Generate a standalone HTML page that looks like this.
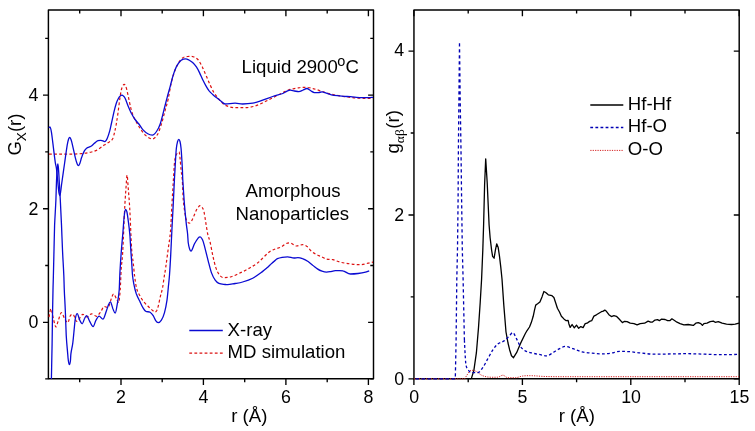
<!DOCTYPE html>
<html><head><meta charset="utf-8"><title>G(r) plots</title>
<style>
html,body{margin:0;padding:0;background:#fff;}
svg{display:block;will-change:transform;}
text{font-family:"Liberation Sans",Arial,sans-serif;fill:#000;}
.t{font-size:17.8px;text-anchor:middle;}
.l{font-size:18.6px;}
.s{font-family:"Liberation Serif","DejaVu Serif",serif;}
</style></head><body>
<svg width="755" height="431" viewBox="0 0 755 431">
<rect width="755" height="431" fill="#fff"/>
<g fill="none" stroke-linejoin="round" stroke-linecap="butt">
<!-- frames and ticks -->
<rect x="48.4" y="10.05" width="325.1" height="368.75" stroke="#000" stroke-width="1.45"/>
<rect x="413.95" y="10.05" width="325.25" height="368.75" stroke="#000" stroke-width="1.45"/>
<path d="M79.7 378.8v3.5M79.7 10.1v3.5M121.0 378.8v6.1M121.0 10.1v6.1M162.2 378.8v3.5M162.2 10.1v3.5M203.4 378.8v6.1M203.4 10.1v6.1M244.7 378.8v3.5M244.7 10.1v3.5M285.9 378.8v6.1M285.9 10.1v6.1M327.2 378.8v3.5M327.2 10.1v3.5M368.4 378.8v6.1M368.4 10.1v6.1M48.4 378.8h-3.2M373.5 378.8h-3.2M48.4 322.3h-5.4M373.5 322.3h-5.4M48.4 265.5h-3.2M373.5 265.5h-3.2M48.4 208.7h-5.4M373.5 208.7h-5.4M48.4 151.9h-3.2M373.5 151.9h-3.2M48.4 95.1h-5.4M373.5 95.1h-5.4M48.4 38.3h-3.2M373.5 38.3h-3.2M413.9 378.8v6.1M413.9 10.1v6.1M468.2 378.8v3.5M468.2 10.1v3.5M522.4 378.8v6.1M522.4 10.1v6.1M576.6 378.8v3.5M576.6 10.1v3.5M630.8 378.8v6.1M630.8 10.1v6.1M685.0 378.8v3.5M685.0 10.1v3.5M739.2 378.8v6.1M739.2 10.1v6.1M413.9 378.8h-5.4M739.2 378.8h-5.4M413.9 296.9h-3.2M739.2 296.9h-3.2M413.9 215.0h-5.4M739.2 215.0h-5.4M413.9 133.0h-3.2M739.2 133.0h-3.2M413.9 51.1h-5.4M739.2 51.1h-5.4" stroke="#000" stroke-width="1.35"/>
<!-- left panel curves -->
<path d="M49.0 154.1C55.7 154.1 62.3 154.1 69.0 154.1C73.2 154.1 77.4 154.0 81.6 153.6C84.9 153.3 88.3 152.8 91.6 152.0C93.7 151.5 95.8 150.7 97.9 149.5C100.0 148.3 102.1 146.5 104.2 145.1C105.9 144.0 107.5 143.2 109.2 142.0C110.4 141.1 111.5 141.0 112.7 138.8C113.4 137.5 114.1 134.2 114.8 131.3C115.3 129.2 115.8 126.9 116.3 124.0C116.9 120.3 117.6 116.0 118.2 111.4C118.7 107.6 119.3 102.5 119.8 98.8C120.3 95.4 120.8 92.3 121.3 90.1C121.8 87.9 122.3 86.8 122.8 85.8C123.3 84.9 123.7 84.4 124.2 84.4C124.7 84.4 125.1 85.0 125.6 86.0C126.0 86.9 126.5 88.4 126.9 90.1C127.5 92.6 128.2 95.9 128.8 98.8C129.4 101.7 130.1 105.2 130.7 107.6C131.5 110.8 132.4 113.6 133.2 115.7C134.2 118.4 135.3 120.1 136.3 122.0C137.4 124.0 138.4 125.9 139.5 127.5C141.4 130.3 143.4 133.4 145.3 135.1C147.6 137.2 150.0 138.9 152.3 138.9C154.0 138.9 155.8 137.3 157.5 134.5C158.8 132.4 160.1 128.1 161.4 124.0C162.7 120.0 163.9 114.8 165.2 110.1C166.2 106.4 167.2 103.5 168.2 99.0C169.2 94.3 170.3 86.9 171.3 82.6C172.6 77.3 173.8 73.5 175.1 70.1C176.3 66.8 177.6 64.5 178.8 62.5C180.1 60.4 181.3 58.8 182.6 57.9C184.3 56.8 185.9 56.5 187.6 56.5C189.5 56.5 191.3 56.1 193.2 56.7C194.9 57.3 196.6 58.0 198.3 60.0C199.7 61.7 201.2 64.7 202.6 67.6C203.9 70.1 205.1 73.4 206.4 76.3C207.7 79.2 208.9 82.3 210.2 85.1C211.4 87.8 212.7 90.5 213.9 92.6C215.2 94.7 216.4 96.0 217.7 97.6C218.8 99.0 219.9 100.4 221.0 101.5C222.4 102.9 223.7 104.6 225.1 105.2C228.4 106.7 231.8 107.7 235.1 107.7C238.5 107.7 241.8 107.7 245.2 107.7C248.5 107.7 251.9 107.0 255.2 106.0C258.5 105.0 261.9 103.1 265.2 101.5C268.5 99.9 271.9 98.2 275.2 96.5C278.6 94.8 281.9 93.0 285.3 91.4C286.9 90.6 288.4 89.9 290.0 89.4C292.1 88.8 294.2 88.6 296.3 88.2C298.4 87.9 300.4 87.3 302.5 87.3C304.4 87.3 306.3 87.2 308.2 87.5C310.1 87.7 311.9 88.3 313.8 88.8C315.9 89.4 318.0 90.0 320.1 90.7C322.2 91.4 324.2 92.2 326.3 92.8C328.8 93.6 331.4 94.3 333.9 94.8C336.8 95.4 339.7 95.9 342.6 96.3C346.0 96.8 349.3 97.2 352.7 97.6C355.2 97.9 357.7 98.1 360.2 98.2C362.7 98.3 365.2 98.4 367.7 98.4C369.5 98.4 371.2 98.3 373.0 98.2" stroke="#dc1010" stroke-width="1.2" stroke-dasharray="2.8 2.3"/>
<path d="M49.0 317.0C49.6 314.3 50.3 308.8 50.9 308.8C51.7 308.8 52.6 315.8 53.4 318.8C54.2 321.8 55.1 327.0 55.9 327.0C56.7 327.0 57.6 322.2 58.4 320.1C59.4 317.4 60.5 312.6 61.5 312.6C62.6 312.6 63.6 317.1 64.7 318.8C65.7 320.4 66.8 322.6 67.8 322.6C68.6 322.6 69.5 317.0 70.3 315.7C71.2 314.3 72.1 314.5 73.0 314.5C74.3 314.5 75.5 321.5 76.8 321.5C78.8 321.5 80.9 314.4 82.9 314.4C84.3 314.4 85.8 316.9 87.2 316.9C88.7 316.9 90.1 313.8 91.6 313.8C93.3 313.8 94.9 316.3 96.6 316.3C98.1 316.3 99.5 313.2 101.0 311.3C102.1 309.9 103.1 306.5 104.2 306.5C105.4 306.5 106.7 307.5 107.9 307.5C109.2 307.5 110.4 300.5 111.7 297.5C112.3 296.0 113.0 294.0 113.6 294.0C114.6 294.0 115.7 297.7 116.7 299.5C117.3 300.6 118.0 302.6 118.6 302.6C119.1 302.6 119.7 296.9 120.2 290.0C120.5 285.7 120.9 273.8 121.2 268.8C121.7 261.8 122.1 261.9 122.6 253.8C123.3 241.6 124.0 221.6 124.7 208.0C125.1 199.6 125.6 193.6 126.0 187.7C126.4 182.7 126.7 175.2 127.1 175.2C127.5 175.2 127.8 183.1 128.2 187.7C128.7 194.0 129.2 199.1 129.7 208.0C130.4 219.9 131.0 239.6 131.7 250.0C132.2 257.8 132.7 258.0 133.2 262.5C133.7 266.7 134.1 272.4 134.6 276.0C135.2 280.9 135.9 285.3 136.5 288.0C137.3 291.2 138.0 292.3 138.8 293.8C140.5 297.0 142.1 299.7 143.8 301.9C145.5 304.1 147.1 305.4 148.8 307.0C150.2 308.4 151.6 309.7 153.0 310.8C153.7 311.4 154.4 312.0 155.1 312.0C155.7 312.0 156.2 311.5 156.8 310.5C157.3 309.6 157.7 308.1 158.2 306.3C158.8 303.8 159.5 300.3 160.1 297.6C160.9 294.0 161.8 291.7 162.6 287.5C163.1 285.0 163.6 280.7 164.1 277.5C164.6 274.1 165.2 271.3 165.7 267.6C166.5 261.8 167.4 255.2 168.2 248.8C169.0 243.0 169.7 240.1 170.5 231.0C171.0 225.5 171.4 213.3 171.9 205.1C172.4 196.3 172.9 188.3 173.4 180.0C173.7 174.5 174.1 167.5 174.4 163.8C174.8 159.8 175.1 158.3 175.5 157.0C176.2 154.6 176.8 153.7 177.5 152.8C178.0 152.0 178.6 151.9 179.1 151.9C179.4 151.9 179.8 155.8 180.1 158.8C180.4 161.8 180.8 166.9 181.1 170.1C181.5 174.0 181.9 174.5 182.3 180.0C182.6 184.1 182.9 195.5 183.2 198.8C184.0 208.0 184.9 213.1 185.7 217.6C186.3 220.8 186.9 220.9 187.5 221.8C188.2 222.8 188.8 223.2 189.5 223.2C190.1 223.2 190.7 222.4 191.3 221.5C191.9 220.5 192.6 219.0 193.2 217.6C194.3 215.2 195.3 212.3 196.4 210.1C197.1 208.7 197.8 207.6 198.5 206.8C199.0 206.2 199.6 205.7 200.1 205.7C200.7 205.7 201.3 206.1 201.9 207.0C202.6 208.0 203.2 208.6 203.9 211.3C204.5 213.8 205.2 218.8 205.8 222.6C206.4 226.4 207.1 231.1 207.7 234.0C208.5 237.8 209.4 239.0 210.2 242.5C211.0 246.0 211.9 251.4 212.7 255.1C213.7 259.7 214.8 264.6 215.8 267.6C217.1 271.3 218.3 273.4 219.6 275.1C220.8 276.7 222.1 277.6 223.3 277.6C225.6 277.6 227.9 277.6 230.2 277.0C232.7 276.4 235.3 275.2 237.8 274.0C241.1 272.5 244.5 270.9 247.8 269.0C251.2 267.1 254.5 265.2 257.9 262.7C259.9 261.2 262.0 258.7 264.0 256.8C266.0 254.9 268.0 252.8 270.0 251.4C271.9 250.1 273.7 249.6 275.6 248.9C277.4 248.2 279.3 248.0 281.1 247.1C282.7 246.3 284.2 244.5 285.8 243.8C287.2 243.1 288.6 242.9 290.0 242.9C292.2 242.9 294.3 246.0 296.5 246.0C298.5 246.0 300.5 244.7 302.5 244.7C304.0 244.7 305.6 245.4 307.1 246.6C308.7 247.8 310.2 250.4 311.8 251.7C313.3 253.0 314.9 253.7 316.4 254.5C318.1 255.4 319.8 256.0 321.5 256.8C323.2 257.6 324.9 258.7 326.6 259.1C328.7 259.6 330.8 259.2 332.9 259.7C335.4 260.3 337.9 261.6 340.4 262.2C343.7 263.0 347.1 263.5 350.4 263.9C353.8 264.3 357.1 264.7 360.5 264.7C363.0 264.7 365.5 263.7 368.0 263.2C369.7 262.9 371.3 262.5 373.0 262.2" stroke="#dc1010" stroke-width="1.2" stroke-dasharray="2.8 2.3"/>
<path d="M48.8 127.8C49.2 127.5 49.6 126.9 50.0 126.9C50.5 126.9 51.0 129.6 51.5 132.6C52.1 136.5 52.8 142.6 53.4 147.6C54.0 152.6 54.7 158.3 55.3 162.6C55.7 165.3 56.1 165.6 56.5 168.8C57.0 172.8 57.5 179.1 58.0 184.0C58.3 187.0 58.6 190.4 58.9 192.5C59.2 194.3 59.4 195.7 59.7 195.7C60.0 195.7 60.3 193.8 60.6 192.0C60.9 190.2 61.2 187.2 61.5 185.0C62.6 177.3 63.6 170.0 64.7 162.5C65.5 156.7 66.4 150.1 67.2 145.1C67.7 142.3 68.1 140.5 68.6 139.0C69.0 137.9 69.3 137.3 69.7 137.3C70.1 137.3 70.5 138.3 70.9 139.3C71.3 140.4 71.8 142.0 72.2 143.8C73.2 148.1 74.3 153.4 75.3 157.6C75.9 160.2 76.6 162.4 77.2 164.0C77.6 165.1 78.1 165.7 78.5 165.7C79.0 165.7 79.4 164.5 79.9 163.3C80.5 161.8 81.0 159.2 81.6 157.6C82.4 155.2 83.3 153.0 84.1 151.4C84.9 149.8 85.8 148.8 86.6 148.2C88.1 147.1 89.5 147.2 91.0 146.3C92.0 145.7 93.1 144.4 94.1 143.6C95.4 142.6 96.6 141.3 97.9 140.7C98.9 140.2 100.0 140.3 101.0 140.3C102.3 140.3 103.5 141.6 104.8 141.6C105.6 141.6 106.5 140.0 107.3 138.2C108.1 136.4 109.0 133.7 109.8 130.7C110.3 128.9 110.8 126.3 111.3 124.0C112.1 120.2 113.0 116.1 113.8 112.6C114.6 109.1 115.5 105.7 116.3 103.2C117.1 100.7 118.0 99.1 118.8 97.6C119.3 96.6 119.9 96.2 120.4 95.8C120.9 95.4 121.4 95.1 121.9 95.1C122.4 95.1 122.9 95.4 123.4 95.9C124.0 96.4 124.5 97.0 125.1 98.2C126.1 100.4 127.2 103.8 128.2 106.3C129.2 108.8 130.3 111.2 131.3 113.2C132.6 115.6 133.8 117.7 135.1 119.5C136.4 121.3 137.6 122.3 138.9 124.0C140.2 125.7 141.5 128.2 142.8 129.6C144.5 131.4 146.1 132.8 147.8 133.8C149.3 134.7 150.8 135.1 152.3 135.1C153.7 135.1 155.1 133.5 156.5 131.5C157.7 129.8 159.0 127.6 160.2 124.0C161.4 120.4 162.7 114.8 163.9 110.1C165.0 106.0 166.0 101.6 167.1 97.6C168.1 93.7 169.2 90.1 170.2 86.3C171.2 82.6 172.2 78.3 173.2 75.1C174.2 71.8 175.3 69.0 176.3 66.9C177.6 64.4 178.8 62.7 180.1 61.3C181.1 60.1 182.2 59.7 183.2 59.2C184.0 58.8 184.9 58.8 185.7 58.8C186.8 58.8 187.8 59.4 188.9 60.0C190.1 60.7 191.4 61.4 192.6 62.5C193.9 63.7 195.1 65.0 196.4 66.9C197.4 68.4 198.5 70.5 199.5 72.6C200.5 74.7 201.6 77.4 202.6 79.5C203.7 81.7 204.7 83.8 205.8 85.7C206.8 87.5 207.9 89.4 208.9 90.7C210.2 92.3 211.4 93.3 212.7 94.5C213.9 95.6 215.2 96.6 216.4 97.6C217.8 98.7 219.1 99.7 220.5 100.7C222.0 101.8 223.6 104.0 225.1 104.0C228.4 104.0 231.8 103.2 235.1 103.2C237.6 103.2 240.1 104.0 242.6 104.0C246.0 104.0 249.3 103.8 252.7 103.2C256.0 102.6 259.4 101.3 262.7 100.2C266.0 99.1 269.4 97.6 272.7 96.5C276.1 95.4 279.4 94.7 282.8 93.5C284.2 93.0 285.6 91.8 287.0 91.2C288.1 90.7 289.2 90.2 290.3 90.2C291.7 90.2 293.0 90.8 294.4 91.0C295.9 91.2 297.3 91.6 298.8 91.6C300.3 91.6 301.7 90.6 303.2 90.0C304.4 89.5 305.7 88.5 306.9 88.5C308.2 88.5 309.4 90.0 310.7 90.7C311.9 91.4 313.2 92.6 314.4 92.6C315.7 92.6 316.9 92.6 318.2 92.6C319.5 92.6 320.7 91.9 322.0 91.9C323.4 91.9 324.9 92.8 326.3 93.2C328.0 93.7 329.7 94.4 331.4 94.8C333.5 95.3 335.5 95.5 337.6 95.7C339.7 96.0 341.8 96.1 343.9 96.3C346.0 96.5 348.1 96.5 350.2 96.7C352.3 96.9 354.3 97.2 356.4 97.3C358.5 97.5 360.6 97.6 362.7 97.6C364.8 97.6 366.9 97.6 369.0 97.6C370.3 97.6 371.7 97.4 373.0 97.3" stroke="#0a0ad2" stroke-width="1.3"/>
<path d="M51.4 379.1C51.6 367.4 51.9 357.6 52.1 344.0C52.2 336.2 52.4 323.0 52.5 315.0C52.7 305.0 52.8 297.4 53.0 290.0C53.1 284.1 53.3 280.3 53.4 275.0C53.6 267.0 53.8 258.0 54.0 250.0C54.2 241.3 54.4 230.7 54.6 225.0C55.1 214.0 55.5 209.8 55.9 200.0C56.1 195.3 56.3 185.9 56.5 181.3C56.8 175.2 57.0 171.5 57.3 168.0C57.5 165.8 57.6 164.0 57.8 164.0C58.0 164.0 58.3 166.1 58.5 169.0C58.8 172.8 59.1 178.8 59.4 184.0C59.7 189.2 60.0 194.1 60.3 200.0C60.7 207.8 61.1 215.9 61.5 225.0C61.8 232.6 62.2 242.8 62.5 250.0C62.9 259.4 63.4 265.4 63.8 275.0C64.0 278.7 64.1 286.0 64.3 290.0C64.5 295.6 64.8 299.1 65.0 304.0C65.2 307.5 65.3 310.7 65.5 315.0C65.7 321.0 66.0 330.9 66.2 335.0C66.7 343.8 67.2 347.9 67.7 353.8C67.9 356.6 68.2 359.5 68.4 361.0C68.7 363.1 69.1 364.6 69.4 364.6C69.7 364.6 70.1 363.4 70.4 361.0C70.6 359.8 70.7 355.1 70.9 353.8C71.5 349.1 72.2 347.7 72.8 343.0C73.2 339.8 73.7 334.3 74.1 330.1C74.5 326.2 74.9 320.9 75.3 318.8C75.9 315.4 76.6 313.6 77.2 313.6C78.0 313.6 78.9 318.4 79.7 320.1C80.5 321.8 81.4 323.8 82.2 323.8C83.0 323.8 83.9 319.7 84.7 318.2C85.3 317.0 86.0 315.7 86.6 315.7C87.6 315.7 88.7 319.6 89.7 321.3C90.8 323.2 92.0 326.6 93.1 326.6C94.1 326.6 95.0 321.8 96.0 320.1C97.0 318.3 98.1 316.1 99.1 316.1C100.4 316.1 101.6 319.1 102.9 319.1C104.2 319.1 105.4 313.2 106.7 310.0C107.4 308.2 108.1 305.5 108.8 304.0C109.3 302.8 109.9 301.9 110.4 301.9C111.2 301.9 112.1 306.8 112.9 308.8C113.7 310.6 114.4 313.2 115.2 313.2C115.9 313.2 116.6 307.9 117.3 303.8C117.9 300.1 118.6 297.3 119.2 290.0C119.4 287.7 119.6 278.8 119.8 275.0C120.2 266.8 120.7 259.9 121.1 254.0C121.7 245.4 122.4 239.0 123.0 231.3C123.4 226.4 123.8 219.8 124.2 216.3C124.6 212.5 125.1 209.4 125.5 209.4C125.9 209.4 126.4 209.9 126.8 211.5C127.2 213.0 127.6 215.8 128.0 218.8C128.6 223.6 129.3 228.0 129.9 235.1C130.2 238.4 130.5 245.4 130.8 250.0C131.1 254.6 131.4 258.1 131.7 262.5C132.0 266.4 132.2 272.3 132.5 275.0C132.9 279.4 133.4 281.7 133.8 283.8C134.6 287.9 135.5 291.4 136.3 293.8C137.6 297.4 138.8 299.3 140.1 301.9C141.1 304.1 142.2 306.5 143.2 308.2C144.0 309.6 144.9 310.8 145.7 311.3C147.2 312.2 148.6 311.3 150.1 312.2C151.1 312.8 152.2 314.1 153.2 315.7C154.0 317.0 154.9 319.5 155.7 320.7C156.5 321.9 157.4 322.6 158.2 322.6C159.3 322.6 160.3 321.8 161.4 320.1C162.4 318.5 163.5 316.3 164.5 312.6C165.3 309.6 166.2 305.6 167.0 300.1C167.4 297.2 167.9 291.9 168.3 287.5C168.7 283.5 169.1 280.4 169.5 275.0C169.9 269.6 170.3 262.6 170.7 255.1C171.1 247.6 171.5 238.0 171.9 230.0C172.3 221.3 172.8 213.8 173.2 205.1C173.6 197.1 174.0 187.9 174.4 180.0C174.6 175.4 174.9 171.4 175.1 167.6C175.5 161.0 175.9 153.0 176.3 148.8C176.7 144.3 177.2 143.1 177.6 141.5C178.0 140.0 178.4 139.4 178.8 139.4C179.2 139.4 179.6 139.9 180.0 141.5C180.4 143.0 180.7 144.6 181.1 148.8C181.5 153.3 181.9 160.3 182.3 167.6C182.5 170.7 182.6 177.2 182.8 180.0C183.4 189.7 183.9 198.0 184.5 205.1C185.1 212.6 185.7 218.3 186.3 223.9C186.7 227.9 187.2 229.8 187.6 234.0C187.8 236.0 188.0 241.0 188.2 242.5C188.7 246.0 189.1 247.6 189.6 249.0C190.1 250.5 190.6 251.1 191.1 251.1C191.6 251.1 192.1 249.6 192.6 248.5C193.2 247.1 193.9 245.0 194.5 243.8C195.8 241.4 197.0 239.4 198.3 237.8C198.9 237.1 199.5 236.9 200.1 236.9C200.7 236.9 201.2 237.6 201.8 238.5C202.3 239.3 202.8 240.3 203.3 241.9C204.1 244.6 205.0 248.1 205.8 251.3C206.6 254.5 207.5 258.1 208.3 261.3C209.3 265.2 210.4 269.8 211.4 272.6C212.7 276.1 213.9 278.3 215.2 280.1C216.4 281.9 217.7 282.8 218.9 283.3C221.0 284.2 223.1 284.2 225.2 284.5C226.0 284.6 226.8 284.7 227.6 284.7C230.1 284.7 232.6 283.9 235.1 283.5C237.6 283.1 240.1 282.8 242.6 282.0C246.0 281.0 249.3 280.0 252.7 278.2C256.0 276.4 259.4 273.8 262.7 271.4C264.1 270.4 265.6 269.0 267.0 267.8C268.2 266.8 269.3 265.6 270.5 264.6C271.6 263.6 272.8 262.6 273.9 261.6C275.1 260.6 276.2 259.3 277.4 258.7C279.0 257.9 280.5 257.6 282.1 257.3C283.9 257.0 285.8 256.8 287.6 256.8C289.8 256.8 291.9 258.0 294.1 258.0C295.4 258.0 296.6 257.6 297.9 257.6C299.4 257.6 301.0 258.1 302.5 258.7C304.4 259.4 306.2 260.3 308.1 261.5C309.6 262.5 311.2 264.0 312.7 265.2C314.3 266.4 315.8 267.9 317.4 268.9C318.9 269.9 320.5 270.7 322.0 271.2C323.5 271.7 325.1 272.1 326.6 272.1C327.7 272.1 328.9 271.9 330.0 271.7C331.8 271.4 333.6 270.7 335.4 270.7C337.9 270.7 340.4 270.3 342.9 270.9C345.4 271.4 347.9 274.0 350.4 274.0C352.9 274.0 355.5 273.8 358.0 273.5C360.5 273.2 363.0 272.8 365.5 272.2C366.7 271.9 368.0 271.3 369.2 270.9" stroke="#0a0ad2" stroke-width="1.3"/>
<!-- right panel curves -->
<path d="M469.5 378.8L471.4 378.4L473.9 370.2L476.4 352.7L478.5 327.6L480.2 302.5L481.6 279.0L482.8 250.1L483.6 225.0L484.6 185.0L485.7 158.9L487.2 182.7L489.1 225.0L490.1 237.5L491.6 250.1L492.6 256.3L494.1 258.2L495.4 250.1L496.7 243.8L498.2 247.6L499.5 256.3L500.7 266.4L502.0 279.0L503.8 305.1L506.0 332.0L508.0 343.0L509.6 349.7L511.5 355.7L513.5 357.7L516.6 352.7L520.3 343.9L525.1 334.0L526.9 330.8L529.5 327.0L531.3 322.6L533.2 316.3L534.5 310.1L535.7 305.1L537.6 303.8L539.9 301.9L542.0 296.9L543.9 291.5L545.7 292.5L548.3 294.8L552.0 295.7L553.9 297.5L555.8 303.2L557.4 308.2L559.5 312.0L561.4 316.3L563.9 318.9L566.2 320.7L568.1 320.4L568.9 323.9L570.2 327.4L572.1 324.5L574.3 327.9L576.5 325.1L578.7 328.3L580.8 326.6L583.1 327.6L585.2 323.6L587.1 323.2L589.6 321.4L591.7 320.7L593.9 316.1L596.4 314.8L598.9 313.2L601.4 311.7L603.3 311.1L604.8 310.1L606.4 311.3L608.9 314.7L611.4 316.6L613.9 315.7L616.4 316.3L618.9 318.8L622.4 322.6L624.6 321.3L627.1 321.7L630.2 323.2L634.0 323.6L637.1 324.9L640.2 323.6L644.6 323.2L648.1 321.1L650.6 322.2L652.5 322.0L655.0 320.1L657.5 319.7L659.4 320.7L661.3 319.2L665.1 319.5L667.6 320.7L670.1 320.5L671.9 318.8L674.5 320.5L677.0 322.2L680.1 323.6L683.9 324.9L688.2 324.5L693.3 325.4L695.8 323.2L698.3 322.6L700.8 323.6L702.4 325.4L703.9 323.6L707.0 323.2L710.2 321.7L713.3 321.1L715.2 322.3L718.3 321.6L722.1 323.2L726.5 324.2L731.5 324.5L735.2 324.2L739.0 323.2" stroke="#000" stroke-width="1.3"/>
<path d="M414.0 378.8L464.7 378.8L464.7 378.8C465.7 377.2 466.7 375.3 467.7 374.0C468.9 372.4 470.2 370.2 471.4 370.2C473.1 370.2 474.7 370.7 476.4 371.5C478.1 372.3 479.8 374.4 481.5 375.2C483.6 376.2 485.6 376.7 487.7 377.0C491.1 377.4 494.4 377.2 497.8 377.2C499.5 377.2 501.1 375.2 502.8 375.2C504.5 375.2 506.1 377.7 507.8 377.7C510.3 377.7 512.8 377.7 515.3 377.7C517.8 377.7 520.3 376.3 522.8 376.0C525.3 375.7 527.9 375.7 530.4 375.7C535.4 375.7 540.4 376.4 545.4 376.5C552.9 376.7 560.5 376.7 568.0 376.7C576.3 376.7 584.7 376.7 593.0 376.7C641.7 376.7 690.3 376.7 739.0 376.7" stroke="#d42020" stroke-width="1" stroke-dasharray="1.2 1.2"/>
<path d="M459.5 43.2L458.9 100.0L458.4 150.0L458.1 199.0L457.5 249.0L456.8 279.0L456.1 340.0L455.3 378.8L414.0 378.8M459.5 43.2L460.2 100.0L461.0 150.0L461.6 199.0L462.3 249.0L463.1 279.0L464.4 340.1" stroke="#0000b4" stroke-width="1.3" stroke-dasharray="3.4 2.6"/>
<path d="M464.4 340.1C464.8 347.6 465.3 358.9 465.7 362.7C466.4 368.5 467.0 367.8 467.7 369.0C468.9 371.2 470.2 372.7 471.4 372.7C473.5 372.7 475.6 372.7 477.7 372.7C479.4 372.7 481.0 370.0 482.7 367.7C484.4 365.4 486.0 361.8 487.7 358.9C489.4 356.0 491.0 352.7 492.7 350.2C494.4 347.7 496.1 345.3 497.8 343.9C499.9 342.2 501.9 342.3 504.0 340.9C505.7 339.8 507.3 338.0 509.0 336.4C510.3 335.2 511.5 332.6 512.8 332.6C514.1 332.6 515.3 336.6 516.6 338.9C517.8 341.2 519.1 344.7 520.3 346.4C522.0 348.7 523.6 350.0 525.3 350.9C527.8 352.3 530.4 352.6 532.9 353.2C535.4 353.8 537.9 354.2 540.4 354.7C542.5 355.1 544.5 355.9 546.6 355.9C548.7 355.9 550.8 353.9 552.9 352.7C555.0 351.5 557.1 350.0 559.2 348.9C561.3 347.9 563.3 346.4 565.4 346.4C567.9 346.4 570.5 347.9 573.0 348.7C576.0 349.7 579.0 351.2 582.0 351.9C585.4 352.7 588.7 352.9 592.1 353.2C595.4 353.5 598.8 353.9 602.1 353.9C605.0 353.9 608.0 353.6 610.9 353.2C613.8 352.8 616.7 351.4 619.6 351.4C623.0 351.4 626.3 351.4 629.7 351.7C633.9 352.0 638.0 352.8 642.2 353.2C646.4 353.6 650.5 354.2 654.7 354.2C660.6 354.2 666.4 354.0 672.3 353.9C677.3 353.8 682.3 353.7 687.3 353.7C693.2 353.7 699.0 354.0 704.9 354.2C710.7 354.4 716.6 354.7 722.4 354.7C727.9 354.7 733.5 354.5 739.0 354.4" stroke="#0000b4" stroke-width="1.3" stroke-dasharray="2.8 2.3"/>
<!-- legends -->
<path d="M189.3 330.5H222.8" stroke="#0a0ad2" stroke-width="1.3"/>
<path d="M189.3 353.2H222.8" stroke="#dc1010" stroke-width="1.2" stroke-dasharray="2.8 2.3"/>
<path d="M590.3 105H623.3" stroke="#000" stroke-width="1.3"/>
<path d="M590.3 127.5H623.3" stroke="#0000b4" stroke-width="1.3" stroke-dasharray="2.8 2.3"/>
<path d="M590.3 150.4H623.3" stroke="#d42020" stroke-width="1" stroke-dasharray="1.2 1.2"/>
</g>
<!-- left panel labels -->
<text class="t" x="120.9" y="402.7">2</text>
<text class="t" x="203.4" y="402.7">4</text>
<text class="t" x="286" y="402.7">6</text>
<text class="t" x="368.4" y="402.7">8</text>
<text class="t" x="33.4" y="328">0</text>
<text class="t" x="33.4" y="214.5">2</text>
<text class="t" x="33.4" y="100.7">4</text>
<text class="l" x="249.3" y="421.5" text-anchor="middle">r (Å)</text>
<text class="l" transform="translate(20.9 155.6) rotate(-90)">G<tspan dy="5.4" font-size="13.5px">X</tspan><tspan dy="-5.4">(r)</tspan></text>
<text class="l" x="241.6" y="72.6">Liquid 2900<tspan dy="-6.3" dx="-0.4" font-size="14.5px">o</tspan><tspan dy="6.3" dx="0.1">C</tspan></text>
<text class="l" x="293.1" y="197.2" text-anchor="middle">Amorphous</text>
<text class="l" x="292.3" y="220" text-anchor="middle">Nanoparticles</text>
<text class="l" x="227.6" y="335.8">X-ray</text>
<text class="l" x="227.6" y="357.8">MD simulation</text>
<!-- right panel labels -->
<text class="t" x="414.1" y="402.7">0</text>
<text class="t" x="522.5" y="402.7">5</text>
<text class="t" x="631.1" y="402.7">10</text>
<text class="t" x="739.5" y="402.7">15</text>
<text class="t" x="399.2" y="384.7">0</text>
<text class="t" x="399.2" y="220.5">2</text>
<text class="t" x="399.2" y="56.3">4</text>
<text class="l" x="576.8" y="421.5" text-anchor="middle">r (Å)</text>
<text class="l" transform="translate(398.8 153.6) rotate(-90)">g<tspan class="s" dy="5.2" font-size="13.5px" letter-spacing="0.3">αβ</tspan><tspan dy="-5.2">(r)</tspan></text>
<text class="l" x="627.8" y="109.7">Hf-Hf</text>
<text class="l" x="627.8" y="132.3">Hf-O</text>
<text class="l" x="627.8" y="155.3">O-O</text>
</svg>
</body></html>
